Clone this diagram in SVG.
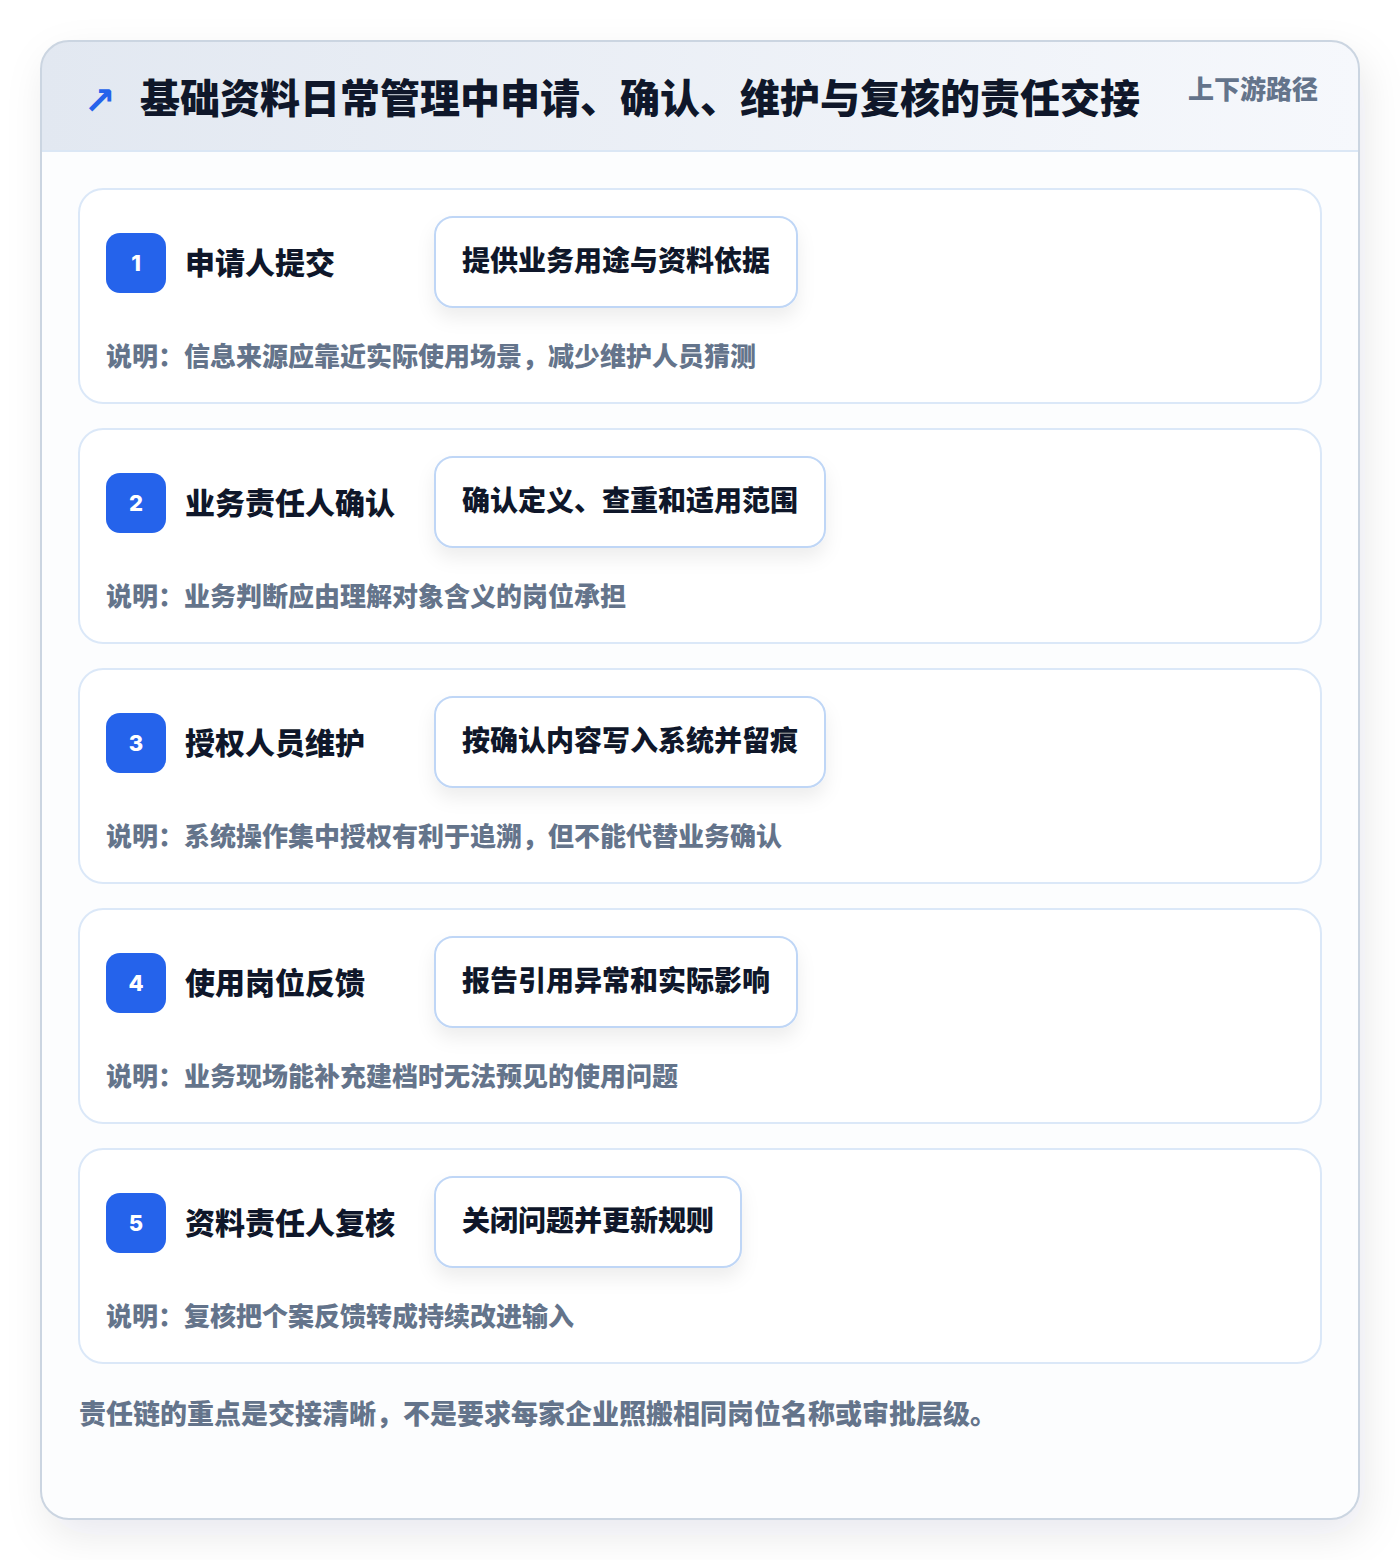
<svg xmlns="http://www.w3.org/2000/svg" width="1400" height="1560" viewBox="0 0 1400 1560">
  <defs>
    <linearGradient id="hdr" x1="0" y1="0" x2="1" y2="0">
      <stop offset="0" stop-color="#e2e8f1"/>
      <stop offset="1" stop-color="#f6f8fc"/>
    </linearGradient>
    <filter id="cardShadow" x="-10%" y="-10%" width="125%" height="125%">
      <feDropShadow dx="6" dy="16" stdDeviation="20" flood-color="#0f172a" flood-opacity="0.09"/>
    </filter>
    <filter id="pillShadow" x="-20%" y="-30%" width="140%" height="190%">
      <feDropShadow dx="0" dy="10" stdDeviation="9" flood-color="#0f172a" flood-opacity="0.07"/>
    </filter>
    <clipPath id="cardClip">
      <rect x="41" y="41" width="1318" height="1478" rx="28"/>
    </clipPath>
    <style>
      text { font-family: "Noto Sans CJK SC", "Noto Sans", sans-serif; font-weight: 700; }
      .title { font-size: 40px; fill: #0f172a; font-weight: 900; }
      .sub { font-size: 26px; fill: #64748b; font-weight: 800; }
      .step { fill: #ffffff; stroke: #dbe8f8; stroke-width: 2; }
      .badge { fill: #2563eb; }
      .num { font-size: 22px; fill: #ffffff; text-anchor: middle; font-family: "Inter", "Noto Sans", sans-serif; font-weight: 800; }
      .stitle { font-size: 30px; fill: #0f172a; font-weight: 900; }
      .pill { fill: #ffffff; stroke: #bfd6f6; stroke-width: 2; }
      .ptext { font-size: 28px; fill: #0f172a; font-weight: 900; }
      .desc { font-size: 26px; fill: #64748b; font-weight: 800; }
      .foot { font-size: 27px; fill: #64748b; font-weight: 800; }
    </style>
  </defs>

  <rect x="0" y="0" width="1400" height="1560" fill="#ffffff"/>

  <g id="frame">
    <rect x="41" y="41" width="1318" height="1478" rx="28" fill="#fcfdfe" filter="url(#cardShadow)"/>
    <g clip-path="url(#cardClip)">
      <rect x="41" y="41" width="1318" height="110" fill="url(#hdr)"/>
      <line x1="41" y1="151" x2="1359" y2="151" stroke="#dbe7f5" stroke-width="2"/>
    </g>
    <rect x="41" y="41" width="1318" height="1478" rx="28" fill="none" stroke="#cbd5e1" stroke-width="2"/>
  </g>

  <g id="header">
    <text x="84" y="114" font-size="38" fill="#2563eb" style="font-family:'DejaVu Sans',sans-serif;font-weight:700">↗</text>
    <text class="title" x="140" y="113">基础资料日常管理中申请、确认、维护与复核的责任交接</text>
    <text class="sub" x="1188" y="99">上下游路径</text>
  </g>

  <g id="step1">
    <rect class="step" x="79" y="189" width="1242" height="214" rx="24"/>
    <rect class="badge" x="106" y="233" width="60" height="60" rx="14"/>
    <text class="num" x="136" y="271">1</text>
    <text class="stitle" x="185" y="274">申请人提交</text>
    <rect class="pill" x="435" y="217" width="362" height="90" rx="18" filter="url(#pillShadow)"/>
    <text class="ptext" x="462" y="271">提供业务用途与资料依据</text>
    <text class="desc" x="106" y="366">说明：信息来源应靠近实际使用场景，减少维护人员猜测</text>
  </g>

  <g id="step2">
    <rect class="step" x="79" y="429" width="1242" height="214" rx="24"/>
    <rect class="badge" x="106" y="473" width="60" height="60" rx="14"/>
    <text class="num" x="136" y="511">2</text>
    <text class="stitle" x="185" y="514">业务责任人确认</text>
    <rect class="pill" x="435" y="457" width="390" height="90" rx="18" filter="url(#pillShadow)"/>
    <text class="ptext" x="462" y="511">确认定义、查重和适用范围</text>
    <text class="desc" x="106" y="606">说明：业务判断应由理解对象含义的岗位承担</text>
  </g>

  <g id="step3">
    <rect class="step" x="79" y="669" width="1242" height="214" rx="24"/>
    <rect class="badge" x="106" y="713" width="60" height="60" rx="14"/>
    <text class="num" x="136" y="751">3</text>
    <text class="stitle" x="185" y="754">授权人员维护</text>
    <rect class="pill" x="435" y="697" width="390" height="90" rx="18" filter="url(#pillShadow)"/>
    <text class="ptext" x="462" y="751">按确认内容写入系统并留痕</text>
    <text class="desc" x="106" y="846">说明：系统操作集中授权有利于追溯，但不能代替业务确认</text>
  </g>

  <g id="step4">
    <rect class="step" x="79" y="909" width="1242" height="214" rx="24"/>
    <rect class="badge" x="106" y="953" width="60" height="60" rx="14"/>
    <text class="num" x="136" y="991">4</text>
    <text class="stitle" x="185" y="994">使用岗位反馈</text>
    <rect class="pill" x="435" y="937" width="362" height="90" rx="18" filter="url(#pillShadow)"/>
    <text class="ptext" x="462" y="991">报告引用异常和实际影响</text>
    <text class="desc" x="106" y="1086">说明：业务现场能补充建档时无法预见的使用问题</text>
  </g>

  <g id="step5">
    <rect class="step" x="79" y="1149" width="1242" height="214" rx="24"/>
    <rect class="badge" x="106" y="1193" width="60" height="60" rx="14"/>
    <text class="num" x="136" y="1231">5</text>
    <text class="stitle" x="185" y="1234">资料责任人复核</text>
    <rect class="pill" x="435" y="1177" width="306" height="90" rx="18" filter="url(#pillShadow)"/>
    <text class="ptext" x="462" y="1231">关闭问题并更新规则</text>
    <text class="desc" x="106" y="1326">说明：复核把个案反馈转成持续改进输入</text>
  </g>

  <g id="connectors"></g>

  <g id="footer">
    <text class="foot" x="79" y="1424">责任链的重点是交接清晰，不是要求每家企业照搬相同岗位名称或审批层级。</text>
  </g>
</svg>
